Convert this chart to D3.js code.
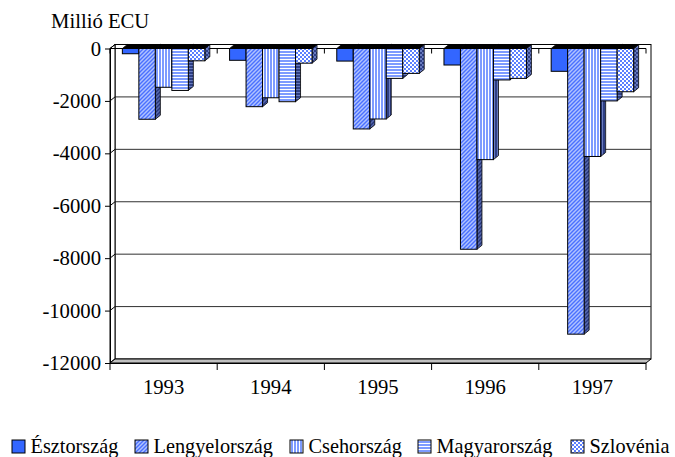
<!DOCTYPE html>
<html>
<head>
<meta charset="utf-8">
<script src="https://cdn.jsdelivr.net/npm/d3@7"></script>
<style>
  html, body { margin: 0; padding: 0; background: #fff; }
  svg { display: block; }
  text { font-family: "Liberation Serif", "Times New Roman", serif; fill: #000; }
</style>
</head>
<body>
<div id="chart"></div>
<script>
// ---------------- data ----------------
const years = ["1993", "1994", "1995", "1996", "1997"];
const seriesNames = ["Észtország", "Lengyelország", "Csehország", "Magyarország", "Szlovénia"];
const esztorszag    = [-200, -450, -480, -630, -870];
const lengyelorszag = [-2700, -2220, -3070, -7660, -10900];
const csehorszag    = [-1480, -1880, -2690, -4240, -4120];
const magyarorszag  = [-1600, -2030, -1140, -1200, -2000];
const szlovenia     = [-470, -560, -950, -1140, -1650];
const yTicks = [0, -2000, -4000, -6000, -8000, -10000, -12000];
const yTickLabels = ["0", "-2000", "-4000", "-6000", "-8000", "-10000", "-12000"];
const yTitle = "Millió ECU";

const seriesValues = [esztorszag, lengyelorszag, csehorszag, magyarorszag, szlovenia];

// ---------------- layout ----------------
const W = 675, H = 457;
const L = 110, R = 646, T = 48.5, B = 363;
const DX = 5, DY = 4;
const FONT = 20.7;
const legendX = [12, 135, 290, 418, 571];

const svg = d3.select("#chart").append("svg").attr("width", W).attr("height", H);
const defs = svg.append("defs");

// patterns
function stripePattern(id, bg, fg, kind) {
  const p = defs.append("pattern").attr("id", id).attr("patternUnits", "userSpaceOnUse");
  if (kind === "diag") {
    p.attr("width", 4).attr("height", 4);
    p.append("rect").attr("width", 4).attr("height", 4).attr("fill", bg);
    p.append("path").attr("d", "M-1,1 l2,-2 M0,4 l4,-4 M3,5 l2,-2")
      .attr("stroke", fg).attr("stroke-width", 1.4);
  } else if (kind === "vert") {
    p.attr("width", 3).attr("height", 3);
    p.append("rect").attr("width", 3).attr("height", 3).attr("fill", bg);
    p.append("rect").attr("width", 2).attr("height", 3).attr("fill", fg);
  } else if (kind === "horiz") {
    p.attr("width", 3).attr("height", 3);
    p.append("rect").attr("width", 3).attr("height", 3).attr("fill", bg);
    p.append("rect").attr("width", 3).attr("height", 2).attr("fill", fg);
  } else if (kind === "check") {
    p.attr("width", 4).attr("height", 4);
    p.append("rect").attr("width", 4).attr("height", 4).attr("fill", bg);
    p.append("rect").attr("width", 2).attr("height", 2).attr("fill", fg);
    p.append("rect").attr("x", 2).attr("y", 2).attr("width", 2).attr("height", 2).attr("fill", fg);
  }
}
stripePattern("pL", "#b0c3ff", "#4a70ff", "diag");
stripePattern("pC", "#ffffff", "#7d9bff", "vert");
stripePattern("pM", "#ffffff", "#7d9bff", "horiz");
stripePattern("pS", "#ffffff", "#5c80ff", "check");
stripePattern("sL", "#5a6cb3", "#26367a", "diag");
stripePattern("sC", "#6a7cc0", "#2e3f85", "vert");
stripePattern("sM", "#6a7cc0", "#2e3f85", "horiz");
stripePattern("sS", "#6a7cc0", "#2e3f85", "check");

const frontFill = ["#3366ff", "url(#pL)", "url(#pC)", "url(#pM)", "url(#pS)"];
const sideFill = ["#1a3399", "url(#sL)", "url(#sC)", "url(#sM)", "url(#sS)"];

// scales
const x0 = d3.scaleBand().domain(years).range([L, R])
  .paddingInner(1.5 / 6.5).paddingOuter(0.75 / 6.5);
const x1 = d3.scaleBand().domain(seriesNames).range([0, x0.bandwidth()]);
const y = d3.scaleLinear().domain([-12000, 0]).range([B, T]);

// back wall
svg.append("rect")
  .attr("x", L + DX).attr("y", T - DY)
  .attr("width", R - L).attr("height", B - T)
  .attr("fill", "#fff").attr("stroke", "#000").attr("stroke-width", 1);

// gridlines on back wall
svg.append("g").selectAll("line")
  .data(yTicks.filter(t => t !== 0 && t !== -12000))
  .join("line")
  .attr("x1", L + DX).attr("x2", R + DX)
  .attr("y1", d => y(d) - DY).attr("y2", d => y(d) - DY)
  .attr("stroke", "#303030").attr("stroke-width", 1);

// left wall
svg.append("path")
  .attr("d", `M${L},${T} L${L + DX},${T - DY} L${L + DX},${B - DY} L${L},${B} Z`)
  .attr("fill", "#fff").attr("stroke", "#000").attr("stroke-width", 1);
svg.append("g").selectAll("line")
  .data(yTicks)
  .join("line")
  .attr("x1", L).attr("y1", d => y(d))
  .attr("x2", L + DX).attr("y2", d => y(d) - DY)
  .attr("stroke", "#000").attr("stroke-width", 1);

// floor
svg.append("path")
  .attr("d", `M${L},${B} L${R},${B} L${R + DX},${B - DY} L${L + DX},${B - DY} Z`)
  .attr("fill", "#c0c0c0").attr("stroke", "#000").attr("stroke-width", 1);
svg.append("line")
  .attr("x1", L).attr("x2", R).attr("y1", B + 0.5).attr("y2", B + 0.5)
  .attr("stroke", "#000").attr("stroke-width", 1);

// category boundaries
const step = x0.step();
const boundaries = d3.range(years.length + 1).map(k => L + k * step);

// category axis at value 0 (under bars)
svg.append("line")
  .attr("x1", L).attr("x2", R).attr("y1", y(0)).attr("y2", y(0))
  .attr("stroke", "#000").attr("stroke-width", 1);
svg.append("g").selectAll("line")
  .data(boundaries)
  .join("line")
  .attr("x1", d => d).attr("x2", d => d)
  .attr("y1", y(0)).attr("y2", y(0) + 5)
  .attr("stroke", "#000").attr("stroke-width", 1);

// bars
const barsG = svg.append("g");
years.forEach((yr, i) => {
  seriesNames.forEach((name, j) => {
    const v = seriesValues[j][i];
    const x = x0(yr) + x1(name);
    const w = x1.bandwidth();
    const yt = y(0), yb = y(v);
    barsG.append("path")
      .attr("d", `M${x + w},${yt} L${x + w + DX},${yt - DY} L${x + w + DX},${yb - DY} L${x + w},${yb} Z`)
      .attr("fill", sideFill[j]).attr("stroke", "#000").attr("stroke-width", 0.8);
    barsG.append("path")
      .attr("d", `M${x},${yt} L${x + w},${yt} L${x + w + DX},${yt - DY} L${x + DX},${yt - DY} Z`)
      .attr("fill", "#000").attr("stroke", "#000").attr("stroke-width", 0.8);
    barsG.append("rect")
      .attr("x", x).attr("y", yt).attr("width", w).attr("height", yb - yt)
      .attr("fill", frontFill[j]).attr("stroke", "#000").attr("stroke-width", 1);
  });
});

// y axis
const yAxis = d3.axisLeft(y)
  .tickValues(yTicks)
  .tickFormat((d, i) => yTickLabels[i])
  .tickSize(5).tickSizeOuter(0).tickPadding(4);
const yg = svg.append("g").attr("transform", `translate(${L},0)`).call(yAxis);
yg.attr("font-family", null);
yg.select(".domain").attr("stroke", "#000");
yg.selectAll(".tick line").attr("stroke", "#000");
yg.selectAll(".tick text")
  .style("font-family", '"Liberation Serif", serif')
  .style("font-size", FONT + "px").attr("fill", "#000");

// x axis bottom ticks at boundaries
svg.append("g").selectAll("line")
  .data(boundaries)
  .join("line")
  .attr("x1", d => d).attr("x2", d => d)
  .attr("y1", B).attr("y2", B + 7)
  .attr("stroke", "#000").attr("stroke-width", 1);
svg.append("g").selectAll("text")
  .data(years)
  .join("text")
  .attr("x", d => x0(d) + x0.bandwidth() / 2)
  .attr("y", 394)
  .attr("text-anchor", "middle")
  .style("font-size", FONT + "px")
  .text(d => d);

// title
svg.append("text")
  .attr("x", 51).attr("y", 28)
  .style("font-size", FONT + "px")
  .text(yTitle);

// legend
const legG = svg.append("g");
seriesNames.forEach((name, j) => {
  const lx = legendX[j];
  legG.append("rect")
    .attr("x", lx).attr("y", 440).attr("width", 13).attr("height", 13)
    .attr("fill", frontFill[j]).attr("stroke", "#000").attr("stroke-width", 1);
  legG.append("text")
    .attr("x", lx + 18.5).attr("y", 453)
    .style("font-size", "20.3px")
    .text(name);
});
</script>
</body>
</html>
